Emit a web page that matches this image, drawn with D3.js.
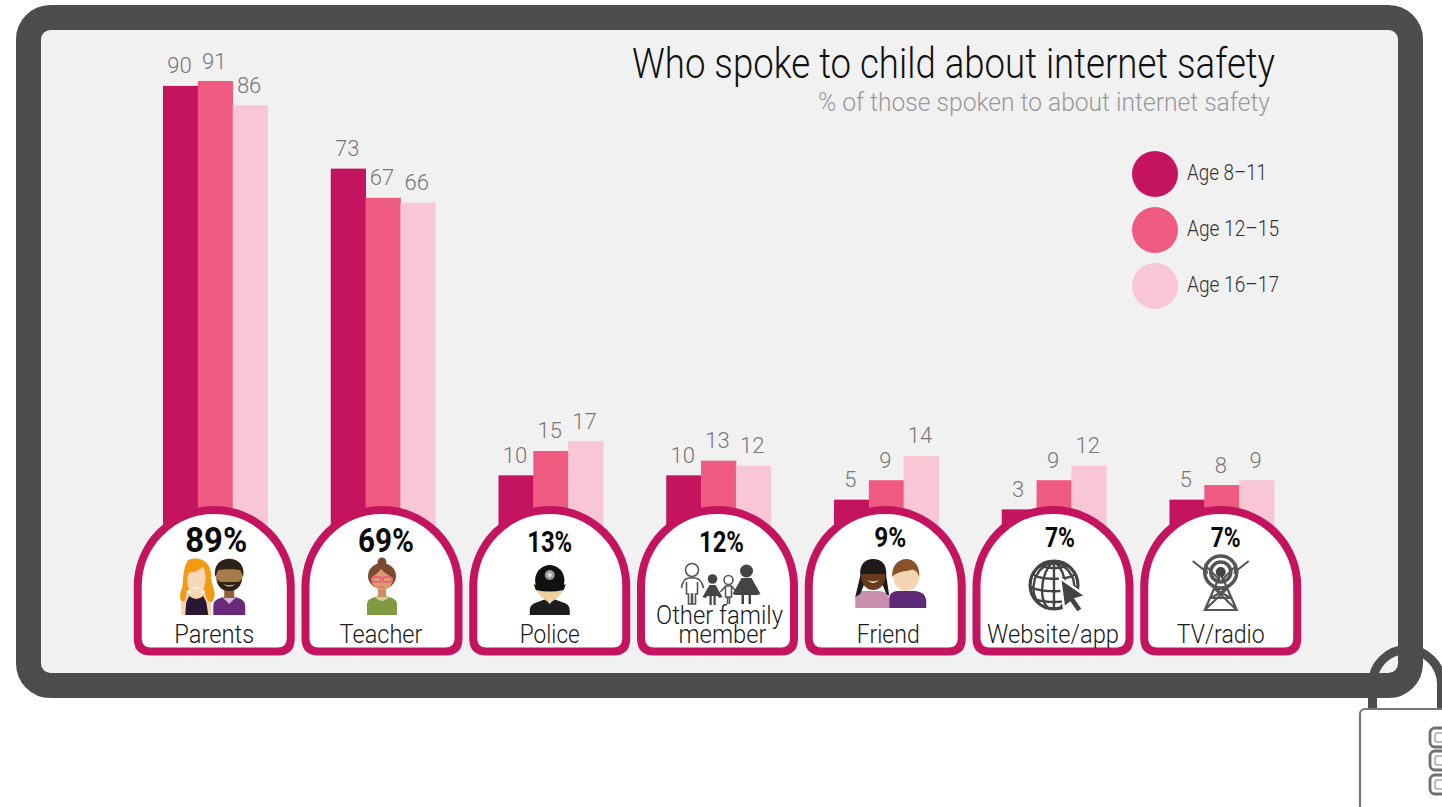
<!DOCTYPE html>
<html>
<head>
<meta charset="utf-8">
<script src="https://cdn.jsdelivr.net/npm/d3@7"></script>
<style>
html,body{margin:0;padding:0;background:#fff;overflow:hidden}
svg{display:block}
text{font-family:"Roboto","Noto Sans",sans-serif}
</style>
</head>
<body>
<svg id="chart" width="1442" height="807"></svg>
<script>
// Survey results, percent by source and age group
const categories = ["Parents","Teacher","Police","Other family member","Friend","Website/app","TV/radio"];
const ageGroups = ["Age 8-11","Age 12-15","Age 16-17"];
const age8to11 = [90,73,10,10,5,3,5];
const age12to15 = [91,67,15,13,9,9,8];
const age16to17 = [86,66,17,12,14,12,9];
const overall = [89,69,13,12,9,7,7];
const seriesColors = ["#c5145f","#ee5a80","#f9c6d6"];

const svg = d3.select("#chart");
const series = [age8to11, age12to15, age16to17];

const x0 = d3.scaleBand().domain(categories).range([163,1274]).paddingInner(0.377);
const x1 = d3.scaleBand().domain(d3.range(3)).range([0,x0.bandwidth()]);
const y = d3.scaleLinear().domain([0,91]).range([524,81]);

// Screen frame
svg.append("rect").attr("x",28.5).attr("y",17.5).attr("width",1382).attr("height",668)
  .attr("rx",22).attr("fill","#f1f1f1").attr("stroke","#4d4d4d").attr("stroke-width",25);

// Padlock hanging from the frame corner
const lock = svg.append("g");
lock.append("path").attr("d","M1372.5,712V684A34.5,34.5 0 0 1 1441.5,684V712")
  .attr("fill","none").attr("stroke","#4d4d4d").attr("stroke-width",9);
lock.append("rect").attr("x",1360).attr("y",709).attr("width",130).attr("height",130).attr("rx",5)
  .attr("fill","#fff").attr("stroke","#777").attr("stroke-width",2.2);
lock.selectAll("rect.dial").data([728,751,775]).join("rect").attr("class","dial")
  .attr("x",1430).attr("y",d=>d).attr("width",30).attr("height",19).attr("rx",5)
  .attr("fill","none").attr("stroke","#6f6f6f").attr("stroke-width",2.8);
lock.selectAll("rect.dial2").data([733,756,780]).join("rect").attr("class","dial2")
  .attr("x",1435).attr("y",d=>d).attr("width",30).attr("height",9).attr("rx",2)
  .attr("fill","none").attr("stroke","#a5a5a5").attr("stroke-width",1.4);

// Title block
function fitted(sel, len){ return sel.attr("textLength",len).attr("lengthAdjust","spacingAndGlyphs"); }
fitted(svg.append("text").attr("x",1275).attr("y",78).attr("text-anchor","end")
  .attr("font-size",42).attr("font-weight",300).attr("fill","#111")
  .text("Who spoke to child about internet safety"),643);
fitted(svg.append("text").attr("x",1270).attr("y",111).attr("text-anchor","end")
  .attr("font-size",25).attr("font-weight",300).attr("fill","#999")
  .text("% of those spoken to about internet safety"),452);

// Legend
const legendY = d3.scalePoint().domain(ageGroups).range([174,286]);
const legendWidths = [80,92,92];
const legend = svg.selectAll("g.legend").data(ageGroups).join("g").attr("class","legend")
  .attr("transform",d=>`translate(0,${legendY(d)})`);
legend.append("circle").attr("cx",1155).attr("r",23).attr("fill",(d,i)=>seriesColors[i]);
legend.append("text").attr("x",1187).attr("y",6).attr("font-size",22).attr("font-weight",300).attr("fill","#333")
  .attr("textLength",(d,i)=>legendWidths[i]).attr("lengthAdjust","spacingAndGlyphs")
  .text(d=>d.replace("-","–"));

// Grouped bars with their value labels
const groups = svg.selectAll("g.group").data(categories).join("g").attr("class","group")
  .attr("transform",d=>`translate(${x0(d)},0)`);
groups.each(function(cat,ci){
  const g = d3.select(this);
  const vals = series.map(s=>s[ci]);
  g.selectAll("rect").data(vals).join("rect")
    .attr("x",(d,i)=>x1(i)).attr("width",x1.bandwidth()+0.4)
    .attr("y",d=>y(d)).attr("height",d=>y(0)-y(d)+6)
    .attr("fill",(d,i)=>seriesColors[i]);
  g.selectAll("text").data(vals).join("text")
    .attr("x",(d,i)=>x1(i)+x1.bandwidth()/2-1).attr("y",d=>y(d)-12.5)
    .attr("text-anchor","middle").attr("font-size",22).attr("font-weight",300).attr("fill","#777")
    .text(d=>d);
});

// Dome-shaped badges
const hw = 76.5, domeTop = 510, domeBottom = 651.5, shoulder = 586.5;
const domePath = `M${-hw},${domeBottom-13}V${shoulder}A${hw},${shoulder-domeTop} 0 0 1 ${hw},${shoulder}V${domeBottom-13}Q${hw},${domeBottom} ${hw-13},${domeBottom}H${-hw+13}Q${-hw},${domeBottom} ${-hw},${domeBottom-13}Z`;
const badgeFont = [35,34,30,30,28,28,28];
const badgeBase = [552,552,552,552,547,547,547];
const badgeWidth = [62,56,45,45,32,30,30];
const badgeShift = [2,4,0,4,5,7,5];
const labelWidth = [80,83,60,null,63,132,88];
const labelShift = [0,-1,0,0,3,0,0];
const badges = svg.selectAll("g.badge").data(categories).join("g").attr("class","badge")
  .attr("transform",d=>`translate(${x0(d)+x0.bandwidth()/2-1},0)`);
badges.append("path").attr("d",domePath).attr("fill","#fff").attr("stroke","#c5145f").attr("stroke-width",8);
badges.append("text").attr("text-anchor","middle").attr("font-weight",700).attr("fill","#0a0a0a")
  .attr("x",(d,i)=>badgeShift[i])
  .attr("y",(d,i)=>badgeBase[i]).attr("font-size",(d,i)=>badgeFont[i])
  .attr("textLength",(d,i)=>badgeWidth[i]).attr("lengthAdjust","spacingAndGlyphs")
  .text((d,i)=>overall[i]+"%");
badges.each(function(d,i){
  const b = d3.select(this);
  const base = {"font-size":25,"font-weight":300,"fill":"#1a1a1a","text-anchor":"middle"};
  const put = (txt,xx,yy,w)=>{ const t=b.append("text").attr("x",xx).attr("y",yy).attr("textLength",w).attr("lengthAdjust","spacingAndGlyphs").text(txt);
    Object.entries(base).forEach(([k,v])=>t.attr(k,v)); return t; };
  if(d==="Other family member"){ put("Other family",2,624,127); put("member",5,643,88); }
  else put(d,labelShift[i],643,labelWidth[i]);
});

// Small pictograms, each in the badge's own coordinates
const icon = {
  "Parents"(g){
    g.append("path").attr("fill","#f6d2ad").attr("d","M-33,615V600Q-33,594 -27,593H-9Q-3,594 -3,600V615Z");
    g.append("path").attr("fill","#f39a12").attr("d","M-26,560C-12,555 -2,564 -3,578C-3,586 3,592 -1,600C-3,604 -6,602 -8,598L-10,590H-27L-29,600C-33,604 -36,598 -33,590C-30,586 -33,570 -26,560Z");
    g.append("path").attr("fill","#f8d7b8").attr("d","M-26,573C-22,572 -16,572 -11,566C-9,572 -8,578 -9,582C-10,590 -14,595 -18,595C-22,595 -26,590 -27,582Z");
    g.append("path").attr("fill","#fff").attr("d","M-23,586Q-18,589 -13,586Q-18,592 -23,586Z");
    g.append("path").attr("fill","#2a1733").attr("d","M-29,615L-28,602L-25,596Q-18,602 -11,596L-8,602L-6,615Z");
    g.append("path").attr("fill","#6b2a79").attr("d","M-1,615V606Q-1,600 6,598L15,595L24,598Q31,600 31,606V615Z");
    g.append("path").attr("fill","#d9b8dc").attr("d","M8,597L15,592L22,597L15,604Z");
    g.append("rect").attr("x",10).attr("y",586).attr("width",10).attr("height",12).attr("fill","#8f6238");
    g.append("ellipse").attr("cx",15).attr("cy",574).attr("rx",13.5).attr("ry",15.5).attr("fill","#a97a4a");
    g.append("path").attr("fill","#2e2117").attr("d","M1,577C-1,563 8,559 15,559C22,559 31,563 29,577L26,570C20,569 10,569 4,570Z");
    g.append("path").attr("fill","#2e2117").attr("d","M2,578C3,588 9,591 15,591C21,591 27,588 28,578C26,583 22,582 15,582C8,582 4,583 2,578Z");
    g.append("path").attr("fill","#fff").attr("d","M9,584Q15,587 21,584Q15,589 9,584Z");
  },
  "Teacher"(g){
    g.append("path").attr("fill","#7f9a41").attr("d","M-15,615V604Q-15,600 -10,598L0,595L10,598Q15,600 15,604V615Z");
    g.append("path").attr("fill","#c5d39a").attr("d","M-7,597Q0,605 7,597L3,594H-3Z");
    g.append("rect").attr("x",-4).attr("y",586).attr("width",8).attr("height",11).attr("fill","#d08a5c");
    g.append("circle").attr("cx",0).attr("cy",562).attr("r",4.5).attr("fill","#7b4a32");
    g.append("ellipse").attr("cx",0).attr("cy",576).attr("rx",14).attr("ry",13).attr("fill","#7b4a32");
    g.append("path").attr("fill","#dc9a6f").attr("d","M-11,578C-8,575 -4,573 -1,569C2,573 7,575 11,578C11,586 5,590 0,590C-5,590 -11,586 -11,578Z");
    g.append("g").attr("fill","none").attr("stroke","#e9557f").attr("stroke-width",1.5)
      .selectAll("rect").data([-10,1]).join("rect").attr("x",d=>d).attr("y",577).attr("width",9).attr("height",5).attr("rx",1.5);
    g.append("path").attr("fill","#a8412e").attr("d","M-3,586Q0,588 3,586Q0,589 -3,586Z");
  },
  "Police"(g){
    g.append("path").attr("fill","#1c1c1c").attr("d","M-20,615V610Q-20,604 -12,602L-4,599L0,604L4,599L12,602Q20,604 20,610V615Z");
    g.append("path").attr("fill","#f0cf9f").attr("d","M-15,586L-14,590Q-9,598 0,603Q9,598 14,590L15,586Z");
    g.append("path").attr("fill","#111").attr("d","M-13,587C-17,580 -14,566 0,565C14,566 17,580 13,587Q0,592 -13,587Z");
    g.append("path").attr("fill","#111").attr("d","M-16,584Q0,592 16,584L14,590Q0,593 -14,590Z");
    g.append("circle").attr("cx",0).attr("cy",575).attr("r",5).attr("fill","#9a9a9a");
    g.append("circle").attr("cx",0).attr("cy",575).attr("r",2.2).attr("fill","#dcdcdc");
  },
  "Other family member"(g){
    const dark = "#444";
    const outline = g.append("g").attr("fill","#fff").attr("stroke","#555").attr("stroke-width",1.6);
    outline.append("circle").attr("cx",-25.5).attr("cy",570).attr("r",6.5);
    outline.append("path").attr("d","M-36,588Q-35,579 -29,578H-22Q-16,579 -14,588M-31,582V594H-29V604H-26V594H-25V604H-22V594H-20V582");
    outline.append("circle").attr("cx",11).attr("cy",580).attr("r",4.5);
    outline.append("path").attr("fill","none").attr("d","M3,592L8,586H14L19,592M8,586V597H14V586M10,597V604M12,597V604");
    const solid = g.append("g").attr("fill",dark);
    solid.append("circle").attr("cx",-5).attr("cy",579).attr("r",4.8);
    solid.append("path").attr("d","M-8,585H-2L5,597L2,598L0,596H-10L-12,598L-15,597Z");
    solid.append("rect").attr("x",-8).attr("y",596).attr("width",2.2).attr("height",9);
    solid.append("rect").attr("x",-4).attr("y",596).attr("width",2.2).attr("height",9);
    solid.append("circle").attr("cx",29).attr("cy",571).attr("r",6.5);
    solid.append("path").attr("d","M24,578H34L43,594L40,595H18L15,594Z");
    solid.append("rect").attr("x",24).attr("y",594).attr("width",2.5).attr("height",10);
    solid.append("rect").attr("x",31).attr("y",594).attr("width",2.5).attr("height",10);
  },
  "Friend"(g){
    g.append("path").attr("fill","#c98fae").attr("d","M-30,608V598Q-30,592 -24,591H-6Q2,592 4,598V608Z");
    g.append("path").attr("fill","#1d1a18").attr("d","M-25,576C-26,564 -20,559 -12,559C-4,559 2,564 1,576L4,596L1,594L-3,584H-21L-25,594L-30,597Z");
    g.append("path").attr("fill","#6a3a1e").attr("d","M-24,574C-20,574 -5,574 0,574C1,584 -5,590 -12,590C-19,590 -25,584 -24,574Z");
    g.append("path").attr("fill","#fff").attr("d","M-18,580Q-12,583 -6,580Q-12,586 -18,580Z");
    g.append("path").attr("fill","#5e2a78").attr("d","M4,608V598Q4,592 12,591H30Q40,592 41,600V608Z");
    g.append("ellipse").attr("cx",21).attr("cy",577).attr("rx",13).attr("ry",14).attr("fill","#f5d5b3");
    g.append("path").attr("fill","#8a5228").attr("d","M7,577C6,565 14,559 21,559C29,559 35,566 34,577C32,571 29,569 25,570C19,572 12,571 7,577Z");
  },
  "Website/app"(g){
    const globe = g.append("g").attr("transform","translate(1,585)").attr("fill","none").attr("stroke","#444").attr("stroke-width",2.4);
    globe.append("circle").attr("r",24).attr("stroke-width",3);
    const geo = d3.geoOrthographic().scale(24).translate([0,0]).rotate([0,-15]);
    globe.append("path").attr("d",d3.geoPath(geo)(d3.geoGraticule().step([30,30])()));
    g.append("path").attr("fill","#444").attr("stroke","#fff").attr("stroke-width",2.5)
      .attr("d","M7,578L33,596L23,599L30,609L24,613L17,603L11,608Z");
  },
  "TV/radio"(g){
    const s = g.append("g").attr("fill","none").attr("stroke","#555");
    s.append("circle").attr("cx",0).attr("cy",572).attr("r",16).attr("stroke-width",3.5);
    s.append("circle").attr("cx",0).attr("cy",572).attr("r",10).attr("stroke-width",3.5);
    s.append("path").attr("stroke-width",2).attr("d","M-28,561L-14,572L-15,566L-1,580M28,561L14,572L15,566L1,580");
    s.append("path").attr("stroke-width",2.2).attr("d","M-1,576L-16,610H16L1,576M-10,598H10M-6,589H6M-16,610L6,589M16,610L-6,589M-10,598L6,589M10,598L-6,589");
    g.append("circle").attr("cx",0).attr("cy",572).attr("r",5).attr("fill","#444");
  }
};
badges.each(function(d){ icon[d](d3.select(this).append("g")); });
</script>
</body>
</html>
